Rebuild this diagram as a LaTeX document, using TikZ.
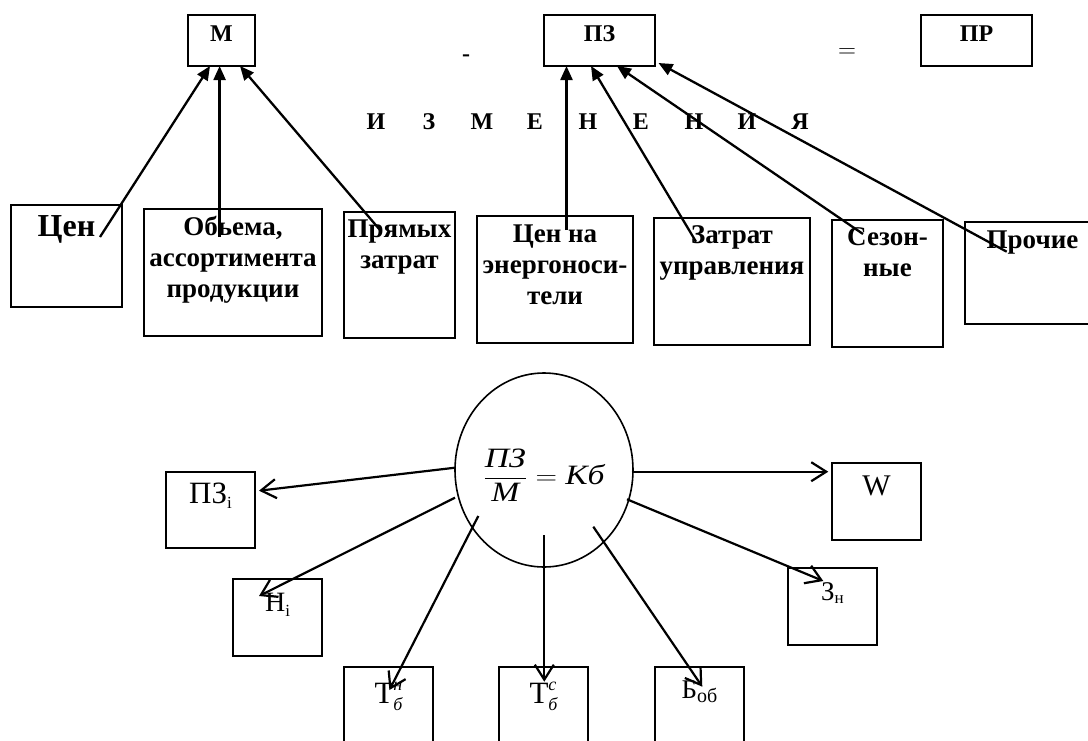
\documentclass[tikz,border=0pt]{standalone}
\usepackage{graphicx}
\usepackage{fontspec}
\setmainfont{Liberation Serif}
\usetikzlibrary{arrows.meta,calc,shapes.geometric}

% text set at the top of a fixed-size box: width, height, first baseline, text
\newcommand\boxtxt[4]{\parbox[t][#2][t]{#1}{\centering\rule{0pt}{#3}#4}}
% lowered index in upright type
\newcommand\lowsub[2][5pt]{\raisebox{-#1}{\fontsize{17}{17}\selectfont #2}}
% italic upper and lower index stacked after a letter
\newcommand\supsub[2]{\rlap{\raisebox{13pt}{\fontsize{18}{18}\selectfont\itshape #1}}\raisebox{-7pt}{\fontsize{18}{18}\selectfont\itshape #2}}
% one letter of the spaced-out heading
\newcommand\spaced[1]{\makebox[53pt]{#1}}

\begin{document}
\begin{tikzpicture}[x=1pt,y=-1pt,
  topbox/.style={draw, line width=2.2pt, inner sep=0pt, outer sep=0pt, anchor=north west,
                 font=\fontsize{24}{28}\selectfont\bfseries},
  rowbox/.style={draw, line width=2.2pt, inner sep=0pt, outer sep=0pt, anchor=north west,
                 font=\fontsize{27}{31}\selectfont\bfseries},
  lowbox/.style={draw, line width=1.7pt, inner sep=0pt, outer sep=0pt, anchor=north west,
                 font=\fontsize{31}{31}\selectfont},
  uparrow/.style={line width=2.3pt, -{Triangle[length=14pt,width=12pt]}},
  outarrow/.style={line width=2.2pt, -{Straight Barb[length=15pt,width=19pt]}},
]
\useasboundingbox (0,0) rectangle (1088,740);
\fill[white] (0,0) rectangle (1088,740);
\clip (0,0) rectangle (1088,740);

% ---- balance line: M - PZ = PR
\node[topbox] (m)  at (188,15) {\boxtxt{67pt}{51pt}{26.7pt}{М}};
\node[topbox] (pz) at (544,15) {\boxtxt{111pt}{51pt}{26.7pt}{ПЗ}};
\node[topbox] (pr) at (921,15) {\boxtxt{111pt}{51pt}{26.7pt}{ПР}};
\node[font=\fontsize{24}{28}\selectfont\bfseries, anchor=base] (minus) at (466,61) {-};
\node[font=\fontsize{26}{30}\selectfont] (equals) at (847,53) {$=$};

\node[font=\fontsize{24}{28}\selectfont\bfseries, anchor=base, inner sep=0pt] (izm) at (588,129.3)
  {\spaced{И}\spaced{З}\spaced{М}\spaced{Е}\spaced{Н}\spaced{Е}\spaced{Н}\spaced{И}\spaced{Я}};

% ---- factors of change
\node[rowbox] (cen) at (11,205)  {\boxtxt{111pt}{102pt}{31pt}{\fontsize{32}{36}\selectfont Цен}};
\node[rowbox] (obm) at (144,209) {\boxtxt{178pt}{127pt}{26pt}{Обьема,\\ассортимента\\продукции}};
\node[rowbox] (prm) at (344,212) {\boxtxt{111pt}{126pt}{25pt}{Прямых\\затрат}};
\node[rowbox] (cne) at (477,216) {\boxtxt{156pt}{127pt}{26pt}{Цен на\\энергоноси-\\тели}};
\node[rowbox] (ztr) at (654,218) {\boxtxt{156pt}{127pt}{25pt}{Затрат\\управления}};
\node[rowbox] (szn) at (832,220) {\boxtxt{111pt}{127pt}{25pt}{Сезон-\\ные}};
\node[rowbox] (pro) at (965,222) {\boxtxt{135pt}{102pt}{26pt}{Прочие}};

\draw[uparrow] ($(cen.north west)+(89,32)$)     -- ($(m.south west)+(22,0)$);
\draw[uparrow] ($(obm.north west)+(75.6,28)$)   -- ($(m.south west)+(31.6,0)$);
\draw[uparrow] ($(prm.north west)+(36,18)$)     -- ($(m.south west)+(52,0)$);
\draw[uparrow] ($(cne.north west)+(89.5,14)$)   -- ($(pz.south west)+(22.5,0)$);
\draw[uparrow] ($(ztr.north west)+(42,23.7)$)   -- ($(pz.south west)+(47,0)$);
\draw[uparrow] ($(szn.north west)+(31,14)$)     -- ($(pz.south west)+(73,0)$);
\draw[uparrow] ($(pro.north west)+(41.7,29.7)$) -- ($(pz.south west)+(114.5,-3)$);

% ---- ratio and its components
\node[draw, ellipse, line width=1.6pt, inner sep=0pt, minimum width=178pt, minimum height=194pt,
      text height=41.4pt, text depth=12pt] (kb) at (544,470)
  {\fontsize{28}{32}\selectfont\scalebox{1.2}[1]{$\displaystyle\frac{\textit{ПЗ}}{\textit{М}}=\textit{Кб}$}};

\node[lowbox] (pzi) at (166,472) {\boxtxt{89pt}{76pt}{31.3pt}{ПЗ\lowsub{i}}};
\node[lowbox] (w)   at (832,463) {\boxtxt{89pt}{77pt}{32pt}{\fontsize{30}{30}\selectfont W}};
\node[lowbox] (zn)  at (788,568) {\boxtxt{89pt}{77pt}{32pt}{\fontsize{27}{27}\selectfont З\lowsub[3pt]{н}}};
\node[lowbox] (ni)  at (233,579) {\boxtxt{89pt}{77pt}{32.7pt}{\fontsize{28}{28}\selectfont Н\lowsub{i}}};
\node[lowbox] (tn)  at (344,667) {\boxtxt{89pt}{85pt}{36pt}{Т\supsub{н}{б}}};
\node[lowbox] (tc)  at (499,667) {\boxtxt{89pt}{85pt}{36pt}{Т\supsub{с}{б}}};
\node[lowbox] (bob) at (655,667) {\boxtxt{89pt}{85pt}{31pt}{\fontsize{27}{27}\selectfont Б\lowsub[4pt]{\fontsize{20}{20}\selectfont об}}};

\draw[outarrow] ($(kb.center)+(-89,-2.3)$)  -- ($(pzi.north east)+(4,18.7)$);
\draw[outarrow] ($(kb.center)+(-89,27.7)$)  -- ($(ni.north west)+(26,17)$);
\draw[outarrow] ($(kb.center)+(-65.7,46)$)  -- ($(tn.north west)+(45.4,23)$);
\draw[outarrow] ($(kb.center)+(0.3,65)$)    -- ($(tc.north west)+(45.3,14.7)$);
\draw[outarrow] ($(kb.center)+(49.3,56.7)$) -- ($(bob.north west)+(47.3,19.7)$);
\draw[outarrow] ($(kb.center)+(87.7,1.7)$)  -- ($(w.north west)+(-3.7,8.7)$);
\draw[outarrow] ($(kb.center)+(83,29.3)$)   -- ($(zn.north west)+(35.3,13)$);
\end{tikzpicture}
\end{document}
